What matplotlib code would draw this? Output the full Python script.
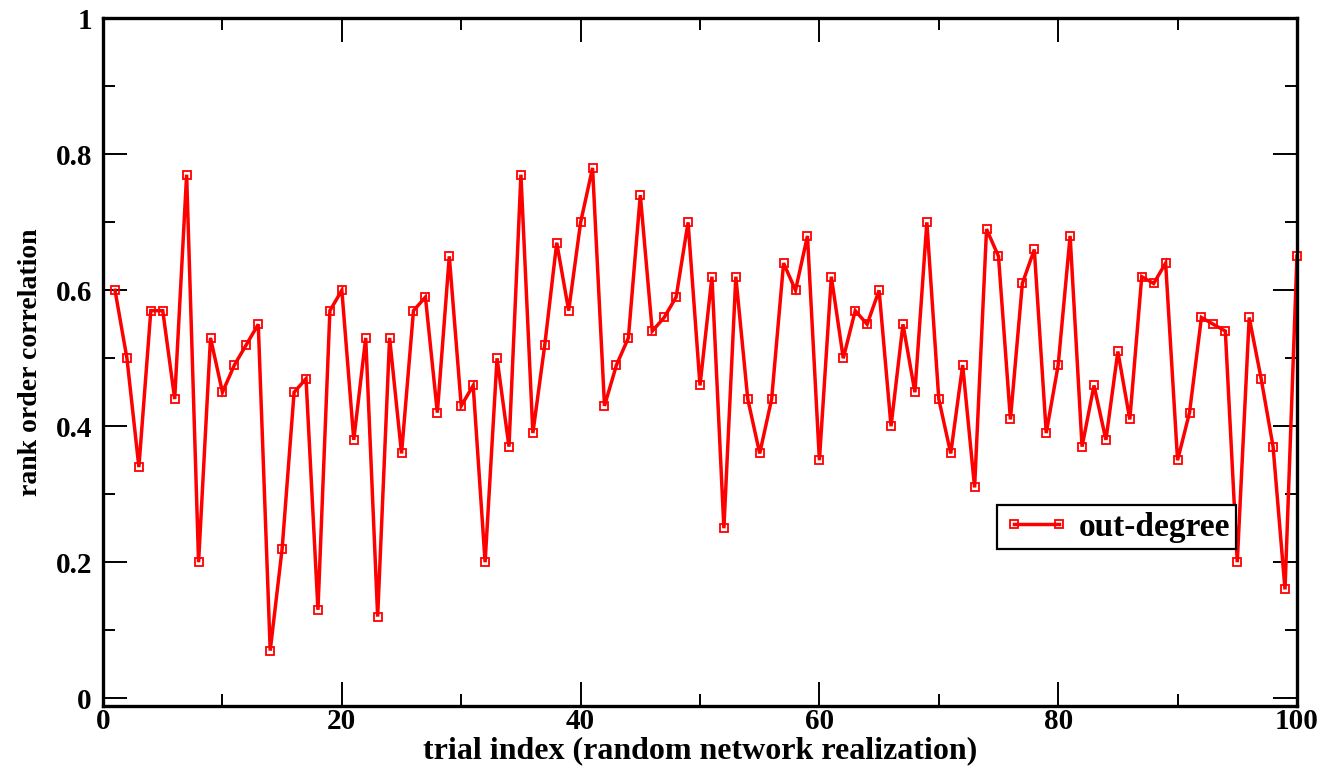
import numpy as np
import matplotlib
matplotlib.use("Agg")
from matplotlib import pyplot as plt
from matplotlib.ticker import MultipleLocator

plt.rcParams['font.family'] = ['Liberation Serif', 'DejaVu Serif']
plt.rcParams['font.weight'] = 'bold'

# rank order correlation per trial
trial = np.arange(1, 101)
corr = [0.60, 0.50, 0.34, 0.57, 0.57, 0.44, 0.77, 0.20, 0.53, 0.45,
        0.49, 0.52, 0.55, 0.07, 0.22, 0.45, 0.47, 0.13, 0.57, 0.60,
        0.38, 0.53, 0.12, 0.53, 0.36, 0.57, 0.59, 0.42, 0.65, 0.43,
        0.46, 0.20, 0.50, 0.37, 0.77, 0.39, 0.52, 0.67, 0.57, 0.70,
        0.78, 0.43, 0.49, 0.53, 0.74, 0.54, 0.56, 0.59, 0.70, 0.46,
        0.62, 0.25, 0.62, 0.44, 0.36, 0.44, 0.64, 0.60, 0.68, 0.35,
        0.62, 0.50, 0.57, 0.55, 0.60, 0.40, 0.55, 0.45, 0.70, 0.44,
        0.36, 0.49, 0.31, 0.69, 0.65, 0.41, 0.61, 0.66, 0.39, 0.49,
        0.68, 0.37, 0.46, 0.38, 0.51, 0.41, 0.62, 0.61, 0.64, 0.35,
        0.42, 0.56, 0.55, 0.54, 0.20, 0.56, 0.47, 0.37, 0.16, 0.65]
series_label = "out-degree"
xticks = [0, 20, 40, 60, 80, 100]
yticks = [0, 0.2, 0.4, 0.6, 0.8, 1.0]
ytick_labels = ["0", "0.2", "0.4", "0.6", "0.8", "1"]

fig = plt.figure(figsize=(13.35, 7.7), dpi=100)
ax = fig.add_axes([0.0772, 0.0835, 0.8943, 0.8927])

ax.plot(trial, corr, color='red', lw=2.5, marker='s', ms=6.2,
        mfc='none', mec='red', mew=1.3, solid_joinstyle='miter',
        label=series_label, clip_on=False)

ax.set_xlim(0, 100)
ax.set_ylim(-0.011, 1.0)
ax.set_xticks(xticks)
ax.set_yticks(yticks)
ax.set_yticklabels(ytick_labels)
ax.xaxis.set_minor_locator(MultipleLocator(10))
ax.yaxis.set_minor_locator(MultipleLocator(0.1))
ax.tick_params(which='both', direction='in', top=True, right=True,
               labelsize=21, width=1.4, color='black')
ax.tick_params(which='major', length=17, pad=8)
ax.tick_params(axis='x', which='major', pad=2)
ax.tick_params(which='minor', length=8.5)
for s in ax.spines.values():
    s.set_linewidth(2.4)

ax.set_xlabel("trial index (random network realization)", fontsize=23,
              fontweight='bold')
ax.xaxis.set_label_coords(0.5, -0.045)
ax.set_ylabel("rank order correlation", fontsize=20, fontweight='bold',
              labelpad=9)

leg = ax.legend(loc='upper left', bbox_to_anchor=(0.749, 0.292),
                borderaxespad=0, fontsize=24, handlelength=1.95,
                numpoints=2, fancybox=False, framealpha=1,
                borderpad=0.2, handletextpad=0.28)
leg.get_frame().set_edgecolor('black')
leg.get_frame().set_linewidth(1.6)

fig.savefig("out.png", dpi=100)
